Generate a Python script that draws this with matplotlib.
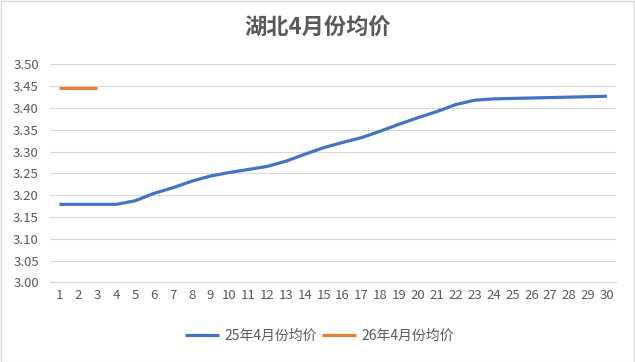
import matplotlib
matplotlib.use("Agg")
import matplotlib.pyplot as plt
from matplotlib.patches import Rectangle

plt.rcParams['font.family'] = ['Noto Sans CJK SC', 'DejaVu Sans']

days = list(range(1, 31))
series_25 = [3.179, 3.179, 3.179, 3.179, 3.187, 3.204, 3.217, 3.232, 3.244, 3.252,
             3.259, 3.266, 3.278, 3.294, 3.309, 3.321, 3.332, 3.347, 3.363, 3.378,
             3.392, 3.408, 3.418, 3.421, 3.422, 3.423, 3.424, 3.425, 3.426, 3.427]
days_26 = [1, 2, 3]
series_26 = [3.445, 3.445, 3.445]
yticks = [3.00, 3.05, 3.10, 3.15, 3.20, 3.25, 3.30, 3.35, 3.40, 3.45, 3.50]
title = "湖北4月份均价"
label_25 = "25年4月份均价"
label_26 = "26年4月份均价"

txt = "#595959"
grid = "#D9D9D9"

fig = plt.figure(figsize=(6.35, 3.62), dpi=100)
fig.patch.set_facecolor("white")
fig.add_artist(Rectangle((0.001, 0.001), 0.997, 0.995, transform=fig.transFigure,
                         fill=False, edgecolor=grid, linewidth=1.0))

ax = fig.add_axes([0.0787, 0.220, 0.892, 0.602])
ax.plot(days, series_25, color="#4472C4", linewidth=2.3, label=label_25,
        solid_capstyle="butt")
ax.plot(days_26, series_26, color="#ED7D31", linewidth=2.3, label=label_26,
        solid_capstyle="butt")

ax.set_xlim(0.5, 30.5)
ax.set_ylim(3.0, 3.5)
ax.set_yticks(yticks)
ax.set_yticklabels([f"{v:.2f}" for v in yticks])
ax.set_xticks(days)
ax.set_xticklabels([str(d) for d in days])
ax.tick_params(axis="both", length=0, labelsize=9.5, colors=txt)
ax.tick_params(axis="y", pad=8)
ax.tick_params(axis="x", pad=5)
ax.grid(axis="y", color=grid, linewidth=0.8)
ax.set_axisbelow(True)
for s in ["top", "right", "left"]:
    ax.spines[s].set_visible(False)
ax.spines["bottom"].set_color(grid)
ax.spines["bottom"].set_linewidth(0.9)

fig.text(0.5, 0.922, title, ha="center", va="center", fontsize=16,
         fontweight="bold", color=txt)

leg = fig.legend(loc="center", bbox_to_anchor=(0.503, 0.072), ncol=2, frameon=False,
                 fontsize=10, handlelength=2.4, columnspacing=0.4, handletextpad=0.4)
for t in leg.get_texts():
    t.set_color(txt)

fig.savefig("out.png", dpi=100, facecolor="white")
